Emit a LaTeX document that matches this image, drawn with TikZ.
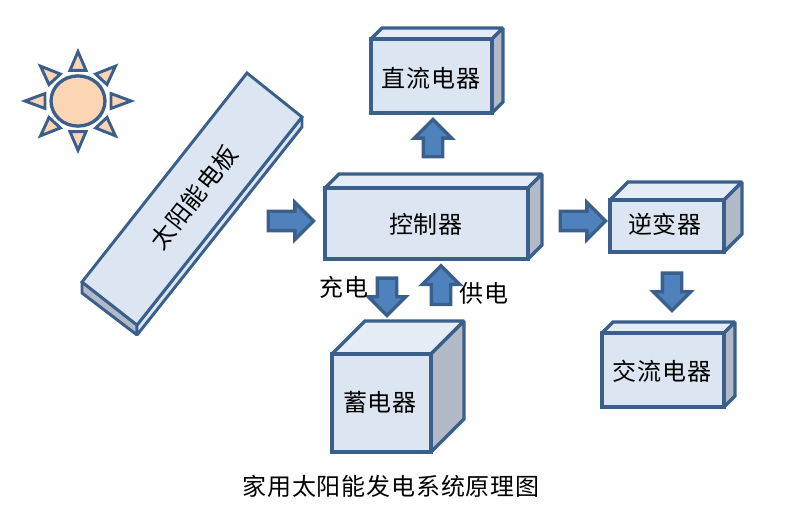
\documentclass[tikz,border=0pt]{standalone}
\usepackage{fontspec}
\setmainfont{Noto Sans CJK SC}[LetterSpace=3.5]
\usetikzlibrary{shapes.arrows}

\definecolor{edgeblue}{HTML}{3A5F8B}
\definecolor{frontblue}{HTML}{DCE6F2}
\definecolor{topblue}{HTML}{E6ECF5}
\definecolor{sidegray}{HTML}{B1BAC6}
\definecolor{arrowblue}{HTML}{4F81BD}
\definecolor{sunfill}{HTML}{FCD5B5}

\tikzset{
  face/.style={draw=edgeblue, line width=2.5pt, line join=miter, miter limit=2},
  label/.style={font=\fontsize{18}{20}\selectfont, inner sep=0pt},
  blockarrow/.style={single arrow, draw=edgeblue, fill=arrowblue, line width=2.5pt,
    text height=12pt, text depth=0pt, text width=0pt, single arrow head extend=6.75pt,
    inner sep=0pt, outer sep=0pt, miter limit=3},
}

% front face corners, then depth of the box
\newcommand{\cuboid}[5]{
  \draw[face, fill=topblue] (#1,#2) -- ++(#5,-#5) -- (#3+#5,#2-#5) -- (#3,#2) -- cycle;
  \draw[face, fill=sidegray] (#3,#2) -- (#3+#5,#2-#5) -- (#3+#5,#4-#5) -- (#3,#4) -- cycle;
  \draw[face, fill=frontblue] (#1,#2) rectangle (#3,#4);
}

\begin{document}
\begin{tikzpicture}[x=0.75pt,y=-0.75pt]
\useasboundingbox (0,0) rectangle (800,520);

% ===== Sun =====
\begin{scope}[shift={(78,101)}, yscale=0.93]
  \foreach \a in {0,45,...,315} {
    \draw[rotate=\a, draw=edgeblue, fill=sunfill, line width=2.2pt, line join=miter, miter limit=3]
      (33,-8) -- (53,0) -- (33,8) -- cycle;
  }
  \draw[draw=edgeblue, fill=sunfill, line width=2.5pt] (0,0) ellipse (27 and 27);
\end{scope}

% ===== Solar panel =====
\draw[face, fill=sidegray, line width=2.2pt] (82,282) -- (137,325) -- (137,335) -- (82,293) -- cycle;
\draw[face, fill=frontblue, line width=2.2pt] (137,325) -- (302,117) -- (302,127) -- (137,335) -- cycle;
\draw[face, fill=frontblue, line width=2.2pt] (247,73) -- (302,117) -- (137,325) -- (82,282) -- cycle;
\node[label, rotate=51.7] (panel) at (194,197) {太阳能电板};

% ===== Boxes =====
\cuboid{371}{39}{492}{113}{11}
\node[label] (dcload) at (431,78) {直流电器};

\cuboid{325}{188}{528}{259}{14}
\node[label] (ctrl) at (426,224) {控制器};

\cuboid{332}{354}{431}{452}{33}
\node[label] (battery) at (380,402) {蓄电器};

\cuboid{610}{200}{724}{252}{18}
\node[label] (inverter) at (665,224) {逆变器};

\cuboid{602}{333}{724}{407}{11}
\node[label] (acload) at (662,371) {交流电器};

% ===== Block arrows =====
\node[blockarrow, minimum height=34pt] (panelctrl) at (286,221) {};
\node[blockarrow, minimum height=28pt, rotate=90] (ctrldc) at (433,143) {};
\node[blockarrow, minimum height=28pt, rotate=-90] (charge) at (387,292) {};
\node[blockarrow, minimum height=29pt, rotate=90] (supply) at (441,290) {};
\node[blockarrow, minimum height=34pt] (ctrlinv) at (578,221) {};
\node[blockarrow, minimum height=28pt, rotate=-90] (invac) at (672,287) {};

% Labels
\node[label] (chargetext) at (344,287) {充电};
\node[label] (supplytext) at (484,293) {供电};
\node[label] (caption) at (391,486) {家用太阳能发电系统原理图};

\end{tikzpicture}
\end{document}
